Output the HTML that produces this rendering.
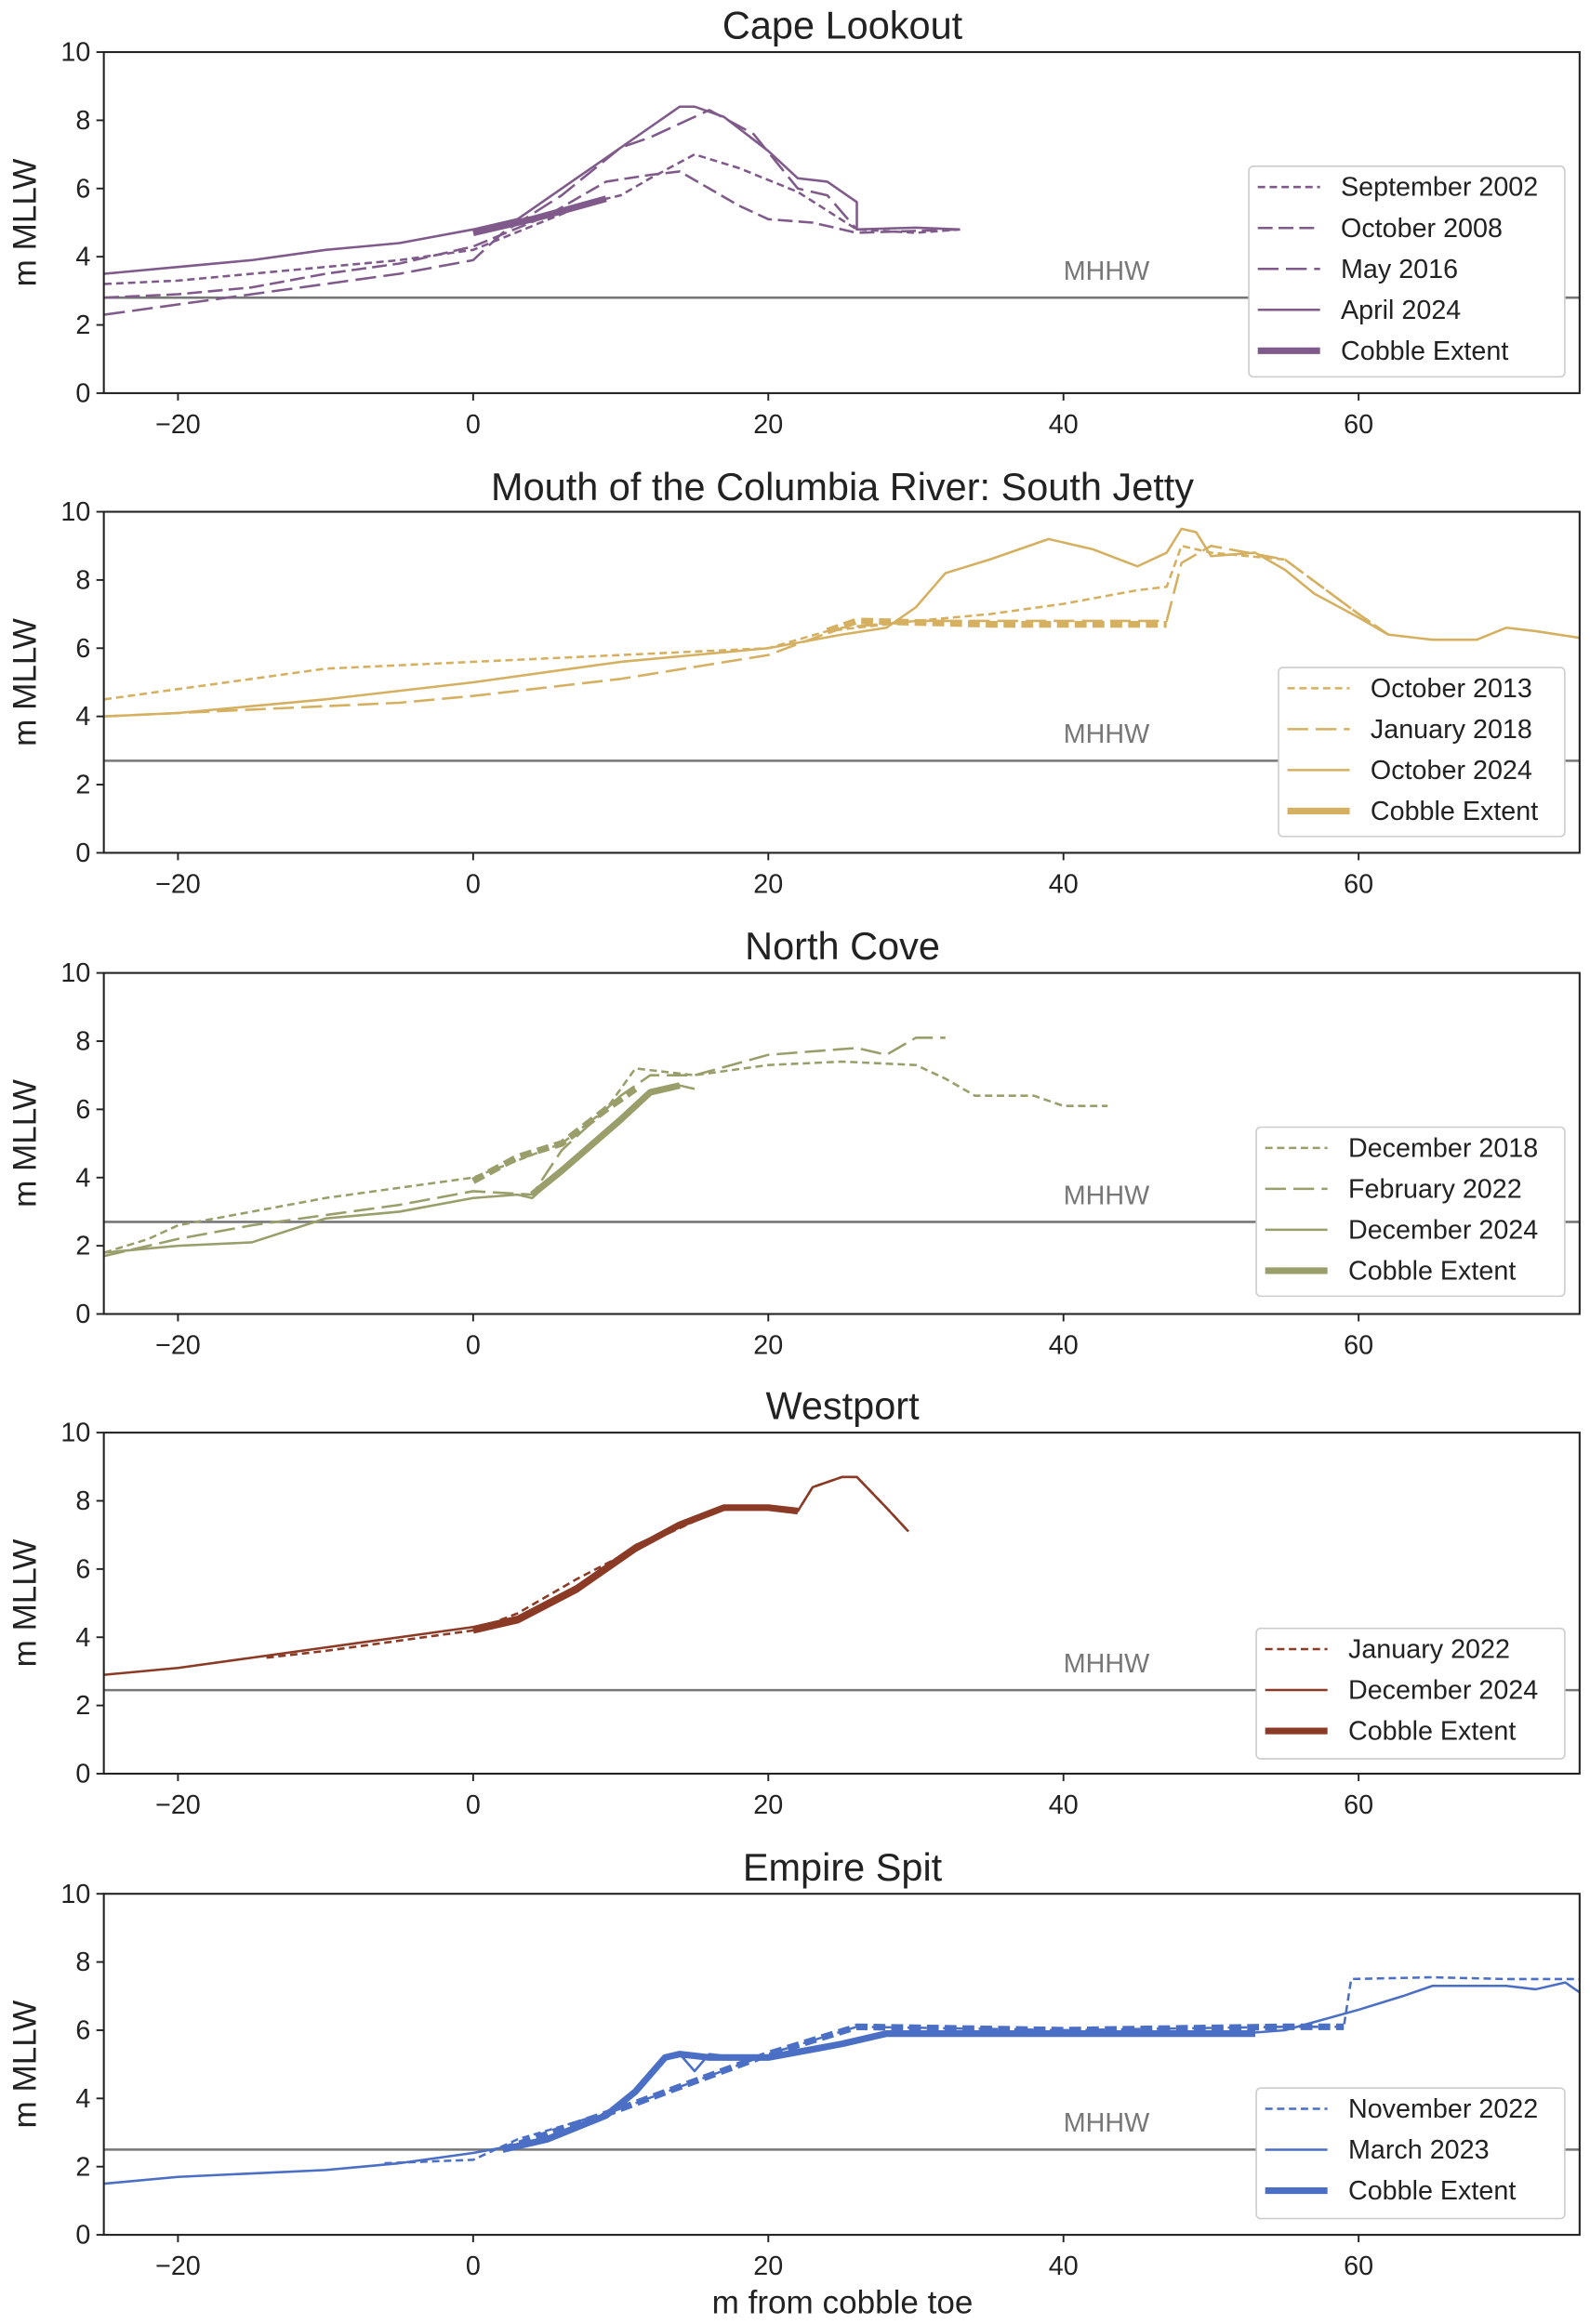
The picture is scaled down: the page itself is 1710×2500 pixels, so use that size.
<!DOCTYPE html>
<html><head><meta charset="utf-8"><style>
html,body{margin:0;padding:0;background:#fff}
svg{display:block}
text{font-family:"Liberation Sans",sans-serif;fill:#222}
</style></head><body>
<svg id="s" width="1710" height="2500" viewBox="0 0 1072 1567" xmlns="http://www.w3.org/2000/svg">
<rect width="1072" height="1567" fill="#fff"/>
<g id="plots"></g>
<text x="568" y="26" font-size="26" text-anchor="middle">Cape Lookout</text>
<text x="568" y="337" font-size="26" text-anchor="middle">Mouth of the Columbia River: South Jetty</text>
<text x="568" y="647" font-size="26" text-anchor="middle">North Cove</text>
<text x="568" y="957" font-size="26" text-anchor="middle">Westport</text>
<text x="568" y="1268" font-size="26" text-anchor="middle">Empire Spit</text>
<text x="568" y="1560" font-size="22" text-anchor="middle">m from cobble toe</text>
</svg>
<script>
const NS="http://www.w3.org/2000/svg";
const G=document.getElementById('plots');
function el(t,a,txt){const e=document.createElementNS(NS,t);for(const k in a)e.setAttribute(k,a[k]);if(txt!==undefined)e.textContent=txt;G.appendChild(e);return e;}
const L=70,R=1065,tops=[35,345,656,966,1277],H=230;
const X=x=>319+x*9.95;
const DASH={s:"5,3",m:"10,4",l:"14,5",d:"8,4"};
const panels=[
{c:"#7f5a8a",mh:2.8,leg:[842,112,213,142],series:[
 {n:"September 2002",d:"s",p:[[-25,3.2],[-20,3.3],[-15,3.5],[-10,3.7],[-5,3.9],[0,4.2],[4,4.9],[8,5.6],[10,5.8],[12,6.3],[15,7.0],[18,6.6],[22,5.9],[26,4.8],[30,4.7],[33,4.8]]},
 {n:"October 2008",d:"m",p:[[-25,2.8],[-20,2.9],[-15,3.1],[-10,3.5],[-5,3.8],[0,4.3],[5,5.2],[9,6.2],[12,6.4],[14,6.5],[16,6.0],[18,5.5],[20,5.1],[23,5.0],[26,4.7],[33,4.8]]},
 {n:"May 2016",d:"l",p:[[-25,2.3],[-20,2.6],[-15,2.9],[-10,3.2],[-5,3.5],[0,3.9],[2,4.7],[6,5.8],[10,7.2],[12,7.5],[16,8.3],[19,7.6],[22,6.0],[24,5.8],[26,4.8]]},
 {n:"April 2024",d:"",p:[[-25,3.5],[-20,3.7],[-15,3.9],[-10,4.2],[-5,4.4],[0,4.8],[3,5.1],[6,6.0],[9,6.9],[12,7.8],[14,8.4],[15,8.4],[17,8.1],[20,7.1],[22,6.3],[24,6.2],[26,5.6],[26,4.8],[30,4.85],[33,4.8]]}],
 cob:[{d:"",p:[[0,4.7],[4,5.1],[9,5.7]]}]},
{c:"#d4b060",mh:2.7,leg:[862,450,193,114],series:[
 {n:"October 2013",d:"s",p:[[-25,4.5],[-20,4.8],[-15,5.1],[-10,5.4],[-5,5.5],[0,5.6],[5,5.7],[10,5.8],[15,5.9],[20,6.0],[24,6.5],[30,6.8],[35,7.0],[40,7.3],[45,7.7],[47,7.8],[48,9.0],[50,8.8],[55,8.6],[60,7.0],[62,6.4]]},
 {n:"January 2018",d:"l",p:[[-25,4.0],[-15,4.2],[-5,4.4],[0,4.6],[10,5.1],[20,5.8],[25,6.6],[30,6.8],[40,6.8],[47,6.8],[48,8.5],[50,9.0],[55,8.6],[60,7.0],[62,6.4]]},
 {n:"October 2024",d:"",p:[[-25,4.0],[-20,4.1],[-10,4.5],[0,5.0],[10,5.6],[20,6.0],[25,6.4],[28,6.6],[30,7.2],[32,8.2],[35,8.6],[39,9.2],[42,8.9],[45,8.4],[47,8.8],[48,9.5],[49,9.4],[50,8.7],[53,8.8],[55,8.3],[57,7.6],[60,6.9],[62,6.4],[65,6.25],[68,6.25],[70,6.6],[72,6.5],[75,6.3]]}],
 cob:[{d:"d",p:[[24,6.5],[26,6.8],[35,6.7],[47,6.7]]}]},
{c:"#9a9e6a",mh:2.7,leg:[847,760,208,114],series:[
 {n:"December 2018",d:"s",p:[[-25,1.8],[-22,2.2],[-20,2.6],[-15,3.0],[-10,3.4],[-5,3.7],[0,4.0],[3,4.5],[6,5.0],[9,6.0],[11,7.2],[15,7.0],[20,7.3],[25,7.4],[30,7.3],[32,6.9],[34,6.4],[38,6.4],[40,6.1],[43,6.1]]},
 {n:"February 2022",d:"l",p:[[-25,1.7],[-20,2.2],[-15,2.6],[-10,2.9],[-5,3.2],[0,3.6],[4,3.5],[6,4.8],[10,6.4],[12,7.0],[15,7.0],[20,7.6],[26,7.8],[28,7.6],[30,8.1],[32,8.1]]},
 {n:"December 2024",d:"",p:[[-25,1.8],[-20,2.0],[-15,2.1],[-10,2.8],[-5,3.0],[0,3.4],[3,3.5],[4,3.4],[6,4.2],[10,5.7],[12,6.5],[14,6.7],[15,6.6]]}],
 cob:[{d:"",p:[[4,3.5],[6,4.2],[10,5.7],[12,6.5],[14,6.7]]},{d:"d",p:[[0,3.9],[3,4.6],[6,5.0],[9,6.0],[11,6.6]]}]},
{c:"#8b3a25",mh:2.45,leg:[847,1098,208,88],series:[
 {n:"January 2022",d:"s",p:[[-14,3.4],[-10,3.6],[-5,3.9],[0,4.2],[3,4.7],[7,5.7],[11,6.6],[14,7.2],[17,7.8],[20,7.8],[22,7.7],[23,8.4],[25,8.7],[26,8.7],[28,7.8],[29.5,7.1]]},
 {n:"December 2024",d:"",p:[[-25,2.9],[-20,3.1],[-15,3.4],[-10,3.7],[-5,4.0],[0,4.3],[3,4.6],[7,5.5],[11,6.7],[14,7.3],[17,7.8],[20,7.8],[22,7.7],[23,8.4],[25,8.7],[26,8.7],[28,7.8],[29.5,7.1]]}],
 cob:[{d:"",p:[[0,4.2],[3,4.5],[7,5.4],[11,6.6],[14,7.3],[17,7.8],[20,7.8],[22,7.7]]}]},
{c:"#4a6fc4",mh:2.5,leg:[847,1408,208,88],series:[
 {n:"November 2022",d:"s",p:[[-6,2.1],[0,2.2],[3,2.8],[10,3.7],[20,5.3],[26,6.1],[40,6.0],[55,6.1],[59,6.1],[59.5,7.5],[65,7.55],[70,7.5],[75,7.5]]},
 {n:"March 2023",d:"",p:[[-25,1.5],[-20,1.7],[-15,1.8],[-10,1.9],[-5,2.1],[0,2.4],[5,2.8],[9,3.5],[11,4.2],[13,5.2],[14,5.3],[15,4.8],[16,5.3],[18,5.2],[20,5.2],[25,5.6],[28,5.9],[35,5.9],[45,5.9],[52,5.9],[55,6.0],[60,6.6],[63,7.0],[65,7.3],[70,7.3],[72,7.2],[74,7.4],[75,7.1]]}],
 cob:[{d:"",p:[[2,2.5],[5,2.8],[9,3.5],[11,4.2],[13,5.2],[14,5.3],[16,5.2],[20,5.2],[25,5.6],[28,5.9],[35,5.9],[45,5.9],[53,5.9]]},{d:"d",p:[[2,2.5],[10,3.7],[20,5.3],[26,6.1],[40,6.0],[55,6.1],[59,6.1]]}]}
];
panels.forEach((P,i)=>{
 const T=tops[i],B=T+H,Y=v=>B-v*23;
 const clip="c"+i;
 const cp=el('clipPath',{id:clip});
 const cr=document.createElementNS(NS,'rect');
 cr.setAttribute('x',L);cr.setAttribute('y',T);cr.setAttribute('width',R-L);cr.setAttribute('height',H);cp.appendChild(cr);
 el('line',{x1:L,x2:R,y1:Y(P.mh),y2:Y(P.mh),stroke:"#777","stroke-width":1.6});
 el('text',{x:X(40),y:Y(P.mh)-12,"font-size":18,"text-anchor":"start",style:"fill:#777"},"MHHW");
 const pth=(p,d,w)=>el('path',{d:"M"+p.map(q=>X(q[0]).toFixed(1)+","+Y(q[1]).toFixed(1)).join("L"),fill:"none",stroke:P.c,"stroke-width":w,"stroke-dasharray":d?DASH[d]:"none","clip-path":"url(#"+clip+")","stroke-linejoin":"round"});
 P.series.forEach(s=>pth(s.p,s.d,1.6));
 P.cob.forEach(s=>pth(s.p,s.d,4.5));
 el('rect',{x:L,y:T,width:R-L,height:H,fill:"none",stroke:"#222","stroke-width":1.3});
 for(let v=0;v<=10;v+=2){el('line',{x1:L-5,x2:L,y1:Y(v),y2:Y(v),stroke:"#222","stroke-width":1.2});el('text',{x:L-9,y:Y(v)+6,"font-size":18,"text-anchor":"end"},v);}
 for(let v=-20;v<=60;v+=20){el('line',{x1:X(v),x2:X(v),y1:B,y2:B+5,stroke:"#222","stroke-width":1.2});el('text',{x:X(v),y:B+27,"font-size":18,"text-anchor":"middle"},v<0?"\u2212"+(-v):v);}
 el('text',{x:24,y:(T+B)/2,"font-size":22,"text-anchor":"middle",transform:`rotate(-90 24 ${(T+B)/2})`},"m MLLW");
 const [lx,ly,lw,lh]=P.leg;
 el('rect',{x:lx,y:ly,width:lw,height:lh,fill:"#fff",stroke:"#ccc","stroke-width":1,rx:3});
 const items=P.series.map(s=>[s.n,s.d,1.6]).concat([["Cobble Extent","",4.5]]);
 items.forEach((it,k)=>{const yy=ly+14+k*27.6;
  el('line',{x1:lx+6,x2:lx+48,y1:yy,y2:yy,stroke:P.c,"stroke-width":it[2],"stroke-dasharray":it[1]?DASH[it[1]]:"none"});
  el('text',{x:lx+62,y:yy+6,"font-size":18},it[0]);});
});
</script>
</body></html>
